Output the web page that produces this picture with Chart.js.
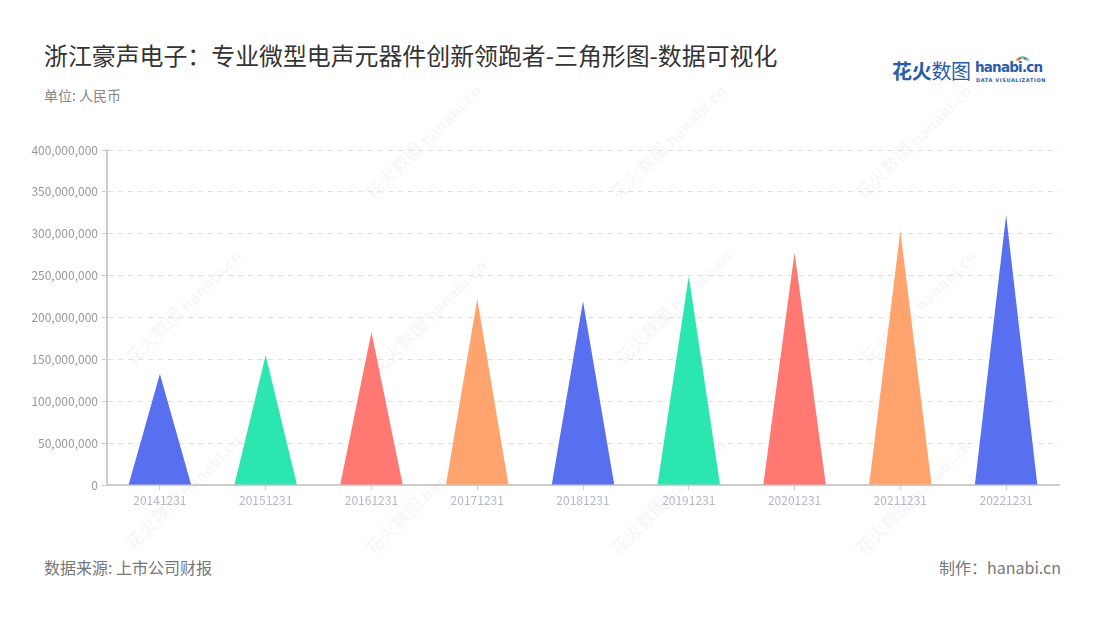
<!DOCTYPE html>
<html>
<head>
<meta charset="utf-8">
<script src="https://cdn.jsdelivr.net/npm/chart.js@4.4.1/dist/chart.umd.min.js"></script>
<style>
  html, body { margin: 0; padding: 0; background: #fff; }
  body { width: 1100px; height: 620px; position: relative; overflow: hidden;
         font-family: "Noto Sans CJK SC", "Noto Sans", sans-serif; }
  #title { position: absolute; left: 44px; top: 37px; font-size: 23.9px; color: #333; white-space: nowrap; }
  #unit { position: absolute; left: 44px; top: 85px; font-size: 14px; color: #888; }
  #source { position: absolute; left: 44px; top: 555px; font-size: 16px; color: #777; }
  #maker { position: absolute; right: 39px; top: 555px; font-size: 16px; color: #777; }
  #logo { position: absolute; left: 892px; top: 56px; height: 30px; white-space: nowrap; }
  #logo .cn { position: absolute; left: 0; top: 0; font-size: 20px; color: #2b5cab; font-weight: 700; letter-spacing: -0.3px; }
  #logo .cn span { font-weight: 400; }
  #logo .en { position: absolute; left: 83px; top: 3px; font-size: 13.5px; color: #2b5cab; font-weight: 700; font-family: "DejaVu Sans", sans-serif; letter-spacing: -0.8px; }
  #logo .sub { position: absolute; left: 84px; top: 21px; font-size: 5px; color: #2b5cab; font-family: "DejaVu Sans", sans-serif; letter-spacing: 0.6px; font-weight: 700; }
  #logo .dot { position: absolute; width: 3px; height: 3px; border-radius: 50%; }
  .wm { position: absolute; transform: rotate(-45deg); transform-origin: center; white-space: nowrap; color: rgba(0,0,0,0.045); font-weight: 700; font-size: 18px; }
  .wm b { font-family: "DejaVu Sans", sans-serif; font-size: 15px; margin-left: 4px; letter-spacing: -0.5px; }
  #wrap { position: absolute; left: 0; top: 0; width: 1100px; height: 620px; }
</style>
</head>
<body>
<div id="wms"></div>
<div id="title">浙江豪声电子：专业微型电声元器件创新领跑者-三角形图-数据可视化</div>
<div id="unit">单位: 人民币</div>
<div id="logo">
  <div class="cn">花火<span>数图</span></div>
  <div class="en">hanabi.cn</div>
  <div class="sub">DATA VISUALIZATION</div>
</div>
<div id="source">数据来源: 上市公司财报</div>
<div id="maker">制作：hanabi.cn</div>
<div id="wrap"><canvas id="c" width="1100" height="620"></canvas></div>
<script>
const categories = ["20141231","20151231","20161231","20171231","20181231","20191231","20201231","20211231","20221231"];
const values = [132500000, 155000000, 182500000, 222000000, 219500000, 249500000, 277500000, 303500000, 322500000];
const colors = ["#5870ef","#2ce6b0","#ff7872","#ffa46f","#5870ef","#2ce6b0","#ff7872","#ffa46f","#5870ef"];
const yTicks = [0, 50000000, 100000000, 150000000, 200000000, 250000000, 300000000, 350000000, 400000000];

// watermarks
(function(){
  const holder = document.getElementById('wms');
  const spots = [[430,140],[675,140],[920,140],
                 [190,305],[435,315],[680,305],[925,305],
                 [190,490],[430,495],[675,495],[920,495]];
  spots.forEach(([cx, cy]) => {
    const d = document.createElement('div');
    d.className = 'wm';
    d.innerHTML = '花火数图<b>hanabi.cn</b>';
    d.style.left = (cx - 85) + 'px';
    d.style.top = (cy - 12) + 'px';
    holder.appendChild(d);
  });
  const logo = document.getElementById('logo');
  const dotCols = ['#f5a623','#e94b6a','#4fc3f7','#7ed321','#9b59b6','#50e3c2'];
  dotCols.forEach((c,i) => {
    const a = -Math.PI/2 + (i-2.5)*0.45;
    const d = document.createElement('div');
    d.className = 'dot';
    d.style.background = c;
    d.style.left = (129 + Math.cos(a)*5) + 'px';
    d.style.top = (4 + Math.sin(a)*4) + 'px';
    logo.appendChild(d);
  });
})();

const trianglePlugin = {
  id: 'triangles',
  afterDatasetsDraw(chart) {
    const ctx = chart.ctx;
    const meta = chart.getDatasetMeta(0);
    meta.data.forEach((bar, i) => {
      const p = bar.getProps(['x','y','base','width'], true);
      ctx.save();
      ctx.beginPath();
      ctx.moveTo(p.x - p.width/2, p.base);
      ctx.lineTo(p.x, p.y);
      ctx.lineTo(p.x + p.width/2, p.base);
      ctx.closePath();
      ctx.fillStyle = colors[i % colors.length];
      ctx.fill();
      ctx.restore();
    });
  }
};

new Chart(document.getElementById('c'), {
  type: 'bar',
  data: {
    labels: categories,
    datasets: [{
      data: values,
      backgroundColor: 'rgba(0,0,0,0)',
      borderWidth: 0,
      categoryPercentage: 1.0,
      barPercentage: 0.59
    }]
  },
  options: {
    responsive: false,
    animation: false,
    devicePixelRatio: 1,
    layout: { padding: { top: 150, right: 41, bottom: 105, left: 0 } },
    plugins: { legend: { display: false }, tooltip: { enabled: false } },
    scales: {
      x: {
        grid: { display: true, offset: false, drawOnChartArea: false, drawTicks: true, tickLength: 5, tickColor: '#cccccc', tickWidth: 1 },
        border: { display: true, color: '#cccccc', width: 2 },
        ticks: { color: '#b4b8c4', font: { family: '"Noto Sans CJK SC", "Noto Sans", sans-serif', size: 12 }, padding: 3, maxRotation: 0, autoSkip: false },
        afterFit(scale) { scale.height = 30; }
      },
      y: {
        min: 0, max: 400000000,
        afterBuildTicks(scale) { scale.ticks = yTicks.map(v => ({ value: v })); },
        grid: { color: '#e0e0e0', lineWidth: 1, tickLength: 5, tickColor: '#cccccc', tickBorderDash: [], drawTicks: true },
        border: { display: true, color: '#cccccc', width: 2, dash: [5, 5] },
        ticks: {
          color: '#999999',
          font: { family: '"Noto Sans CJK SC", "Noto Sans", sans-serif', size: 12 },
          padding: 4,
          callback: v => Number(v).toLocaleString('en-US')
        },
        afterFit(scale) { scale.width = 107; }
      }
    }
  },
  plugins: [trianglePlugin]
});
</script>
</body>
</html>
